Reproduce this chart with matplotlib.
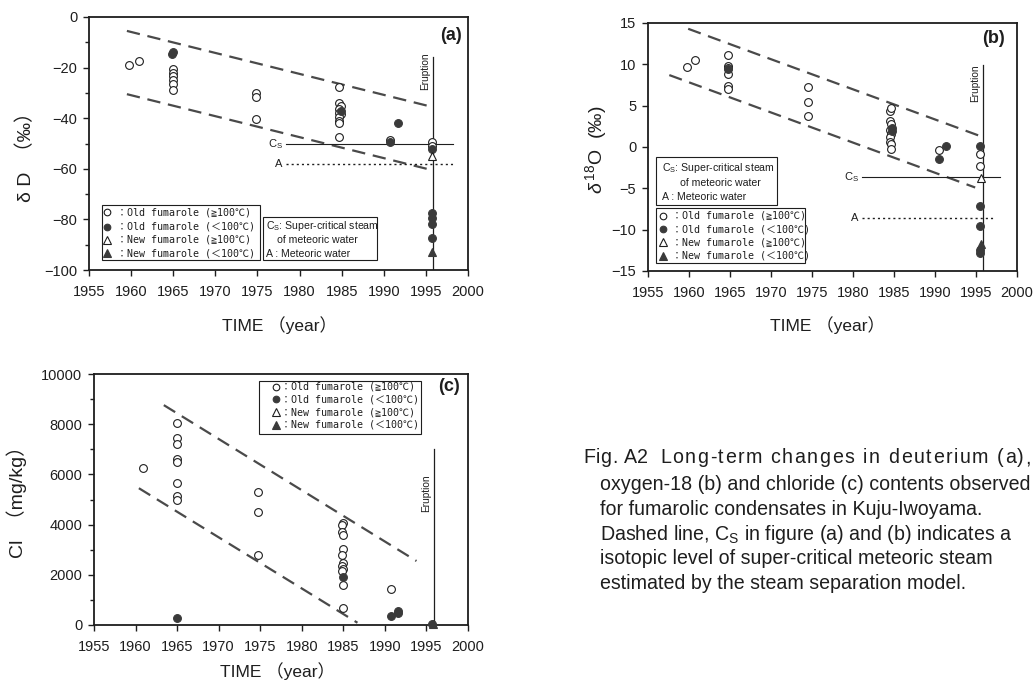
import matplotlib
matplotlib.use("Agg")
import matplotlib.pyplot as plt
from matplotlib.patches import Rectangle
from matplotlib.font_manager import FontProperties
import numpy as np

plt.rcParams["font.family"] = ["Liberation Sans", "Noto Sans CJK JP"]
plt.rcParams["mathtext.fontset"] = "custom"
plt.rcParams["mathtext.rm"] = "Liberation Sans"
plt.rcParams["mathtext.it"] = "Liberation Sans:italic"

INK = "#1e1e1e"
GREY = "#4a4a4a"
FILL = "#3a3a3a"

# ---------------- (a) deuterium ----------------
dD_old_hot_year = [1959.7, 1960.9, 1965.0, 1965.0, 1965.0, 1965.0, 1965.0, 1965.0,
                   1974.8, 1974.8, 1974.8,
                   1984.7, 1984.7, 1984.9, 1984.7, 1984.9, 1984.7, 1984.7, 1984.7, 1984.7, 1984.7,
                   1990.7, 1995.7, 1995.7]
dD_old_hot = [-19, -17.5, -20.5, -22, -23.5, -25, -26.5, -29,
              -30, -31.5, -40.5,
              -27.5, -34, -35, -36.5, -38.5, -38, -39.5, -41, -42, -47.5,
              -48.5, -49.5, -51]
dD_old_cool_year = [1965.0, 1964.9, 1984.9, 1990.7, 1991.7, 1995.7, 1995.7, 1995.7, 1995.7, 1995.7]
dD_old_cool = [-14, -14.5, -37, -49.5, -42, -52, -77.5, -79.5, -82, -87.5]
dD_new_hot_year = [1995.7]
dD_new_hot = [-55]
dD_new_cool_year = [1995.7]
dD_new_cool = [-93]
dD_upper_x = [1959.5, 1995.7]
dD_upper_y = [-5.5, -35.5]
dD_lower_x = [1959.5, 1995.7]
dD_lower_y = [-30.5, -60.5]
dD_cs = -50.3
dD_a = -58.3

# ---------------- (b) oxygen-18 ----------------
d18O_old_hot_year = [1959.7, 1960.7, 1964.7, 1964.7, 1964.7, 1964.7, 1964.7, 1964.7,
                     1974.5, 1974.5, 1974.5,
                     1984.5, 1984.6, 1984.5, 1984.6, 1984.5, 1984.6, 1984.5, 1984.5, 1984.6, 1984.6,
                     1990.5, 1995.5, 1995.5]
d18O_old_hot = [9.7, 10.5, 11.1, 9.8, 9.5, 8.8, 7.4, 7.0,
                7.3, 5.4, 3.7,
                4.4, 4.7, 3.2, 2.8, 2.0, 1.6, 1.2, 0.6, 0.4, -0.2,
                -0.4, -0.9, -2.3]
d18O_old_cool_year = [1964.7, 1984.7, 1984.7, 1990.5, 1991.4, 1995.5, 1995.5, 1995.5, 1995.5, 1995.5]
d18O_old_cool = [9.4, 2.3, 1.9, -1.5, 0.1, 0.1, -7.1, -9.6, -12.4, -12.8]
d18O_new_hot_year = [1995.6]
d18O_new_hot = [-3.7]
d18O_new_cool_year = [1995.6]
d18O_new_cool = [-11.7]
d18O_upper_x = [1959.9, 1995.3]
d18O_upper_y = [14.3, 1.4]
d18O_lower_x = [1957.6, 1994.9]
d18O_lower_y = [8.7, -4.9]
d18O_cs = -3.6
d18O_a = -8.6

# ---------------- (c) chloride ----------------
cl_old_hot_year = [1960.9, 1965.0, 1965.0, 1965.0, 1965.0, 1965.0, 1965.0, 1965.0, 1965.0,
                   1974.7, 1974.7, 1974.7,
                   1984.9, 1984.8, 1984.8, 1984.9, 1984.9, 1984.8, 1984.9, 1984.8, 1984.9, 1984.8,
                   1984.9, 1984.9, 1990.7]
cl_old_hot = [6250, 8030, 7470, 7200, 6600, 6500, 5650, 5150, 5000,
              5300, 4500, 2800,
              4080, 3980, 3720, 3600, 3020, 2780, 2480, 2350, 2250, 2150,
              1600, 660, 1420]
cl_old_cool_year = [1965.0, 1984.9, 1990.7, 1991.6, 1991.6, 1995.7]
cl_old_cool = [290, 1920, 360, 470, 560, 30]
cl_new_cool_year = [1995.8]
cl_new_cool = [20]
cl_upper_x = [1963.4, 1993.8]
cl_upper_y = [8760, 2550]
cl_lower_x = [1960.4, 1986.7]
cl_lower_y = [5450, 90]

eruption_year = 1995.9
years = np.arange(1955, 2001, 5)

legend_labels = ["：Old fumarole (≧100℃)", "：Old fumarole (＜100℃)",
                 "：New fumarole (≧100℃)", "：New fumarole (＜100℃)"]

caption_head = "Fig. A2"
caption_title = "Long-term changes in deuterium (a),"
caption_lines = [
    "oxygen-18 (b) and chloride (c) contents observed",
    "for fumarolic condensates in Kuju-Iwoyama.",
    r"Dashed line, C$_\mathrm{S}$ in figure (a) and (b) indicates a",
    "isotopic level of super-critical meteoric steam",
    "estimated by the steam separation model.",
]

STYLES = {
    "old_hot": dict(marker="o", mfc="white", mec=INK, ms=5.6, mew=0.8),
    "old_cool": dict(marker="o", mfc=FILL, mec=FILL, ms=5.6, mew=0.8),
    "new_hot": dict(marker="^", mfc="white", mec=INK, ms=6.0, mew=0.8),
    "new_cool": dict(marker="^", mfc=FILL, mec=FILL, ms=6.0, mew=0.8),
}
ORDER = ["old_hot", "old_cool", "new_hot", "new_cool"]

W, H = 1036, 684
fig = plt.figure(figsize=(W / 100, H / 100), dpi=100)


def style_axes(ax, xlim, ylim, yticks, yminor=None):
    ax.set_xlim(*xlim)
    ax.set_ylim(*ylim)
    ax.set_xticks(years)
    ax.set_yticks(yticks)
    if yminor is not None:
        ax.set_yticks(yminor, minor=True)
    ax.tick_params(axis="both", which="major", direction="out", length=4.5, width=1.0,
                   color=INK, labelcolor=INK, labelsize=10.5, pad=4)
    ax.tick_params(axis="y", which="minor", direction="out", length=3, width=1.0, color=INK)
    ax.tick_params(axis="x", pad=6)
    for s in ax.spines.values():
        s.set_color(INK)
        s.set_linewidth(1.3)


def pts(ax, x, y, key):
    ax.plot(x, y, linestyle="none", zorder=4, clip_on=False, **STYLES[key])


def dashed(ax, x, y):
    ax.plot(x, y, color=GREY, lw=1.6, linestyle=(0, (6, 3.5)), zorder=2)


def symbol_box(ax, x0, y0, x1, y1, rows_y, mx, tx, fs=7.2):
    ax.add_patch(Rectangle((x0, y0), x1 - x0, y1 - y0, transform=ax.transAxes,
                           facecolor="white", edgecolor=INK, lw=0.8, zorder=5, clip_on=False))
    for key, label, ry in zip(ORDER, legend_labels, rows_y):
        ax.plot([mx], [ry], transform=ax.transAxes, linestyle="none", zorder=6,
                clip_on=False, **{**STYLES[key], "ms": STYLES[key]["ms"] * 0.85})
        ax.text(tx, ry, label, transform=ax.transAxes, fontsize=fs, color=INK,
                va="center", ha="left", zorder=6,
                family=["DejaVu Sans Mono", "Noto Sans CJK JP"])


def cs_box(ax, x0, y0, x1, y1, rows_y, tx, tx2, fs=7.6):
    ax.add_patch(Rectangle((x0, y0), x1 - x0, y1 - y0, transform=ax.transAxes,
                           facecolor="white", edgecolor=INK, lw=0.8, zorder=5, clip_on=False))
    ax.text(tx, rows_y[0], r"C$_\mathrm{S}$: Super-critical steam", transform=ax.transAxes,
            fontsize=fs, color=INK, va="center", zorder=6)
    ax.text(tx2, rows_y[1], "of meteoric water", transform=ax.transAxes,
            fontsize=fs, color=INK, va="center", zorder=6)
    ax.text(tx, rows_y[2], "A : Meteoric water", transform=ax.transAxes,
            fontsize=fs, color=INK, va="center", zorder=6)


def eruption(ax, top, text_top):
    ax.plot([eruption_year, eruption_year], [ax.get_ylim()[0], top], color=INK, lw=0.9, zorder=3)
    ax.text(eruption_year - 0.35, text_top, "Eruption", rotation=90, fontsize=7.3,
            color=INK, ha="right", va="top", zorder=3)


def levels(ax, cs, a, x0, x1, xd1):
    ax.plot([x0, x1], [cs, cs], color=INK, lw=0.8, zorder=3)
    ax.plot([x0, xd1], [a, a], color=INK, lw=1.0, linestyle=(0, (1.5, 2.2)), zorder=3)
    ax.text(x0 - 0.4, cs, r"C$_\mathrm{S}$", fontsize=8, color=INK, ha="right", va="center")
    ax.text(x0 - 0.4, a, "A", fontsize=8, color=INK, ha="right", va="center")


def text_width(s, fs):
    renderer = fig.canvas.get_renderer()
    prop = FontProperties(family="Liberation Sans", size=fs)
    return renderer.get_text_width_height_descent(s, prop, ismath=False)[0]


def spaced_text(x_px, y_px, s, fs, track_px):
    """Write s one glyph at a time with extra tracking between the letters."""
    ref_w = text_width("x", fs)
    for i, ch in enumerate(s):
        if ch == " ":
            continue
        pre_w = text_width(s[:i] + "x", fs) - ref_w
        fig.text((x_px + pre_w + i * track_px) / W, 1 - y_px / H, ch, fontsize=fs,
                 color=INK, va="baseline", family="Liberation Sans")


# ----- panel (a)
axa = fig.add_axes([89 / W, 1 - 270 / H, 379 / W, 253 / H])
style_axes(axa, (1955, 2000), (-100, 0), np.arange(-100, 1, 20), np.arange(-90, 0, 20))
dashed(axa, dD_upper_x, dD_upper_y)
dashed(axa, dD_lower_x, dD_lower_y)
levels(axa, dD_cs, dD_a, 1978.4, 1998.2, 1998.2)
eruption(axa, -16, -14.0)
pts(axa, dD_old_hot_year, dD_old_hot, "old_hot")
pts(axa, dD_old_cool_year, dD_old_cool, "old_cool")
pts(axa, dD_new_hot_year, dD_new_hot, "new_hot")
pts(axa, dD_new_cool_year, dD_new_cool, "new_cool")
symbol_box(axa, 0.034, 0.040, 0.451, 0.257, [0.229, 0.170, 0.119, 0.067], 0.047, 0.074)
cs_box(axa, 0.459, 0.040, 0.760, 0.210, [0.174, 0.119, 0.063], 0.467, 0.495)
axa.text(0.984, 0.96, "(a)", transform=axa.transAxes, fontsize=13, fontweight="bold",
         color=INK, ha="right", va="top")
fig.text(26 / W, 1 - 152 / H, "δ D  （‰）", rotation=90, fontsize=14, color=INK,
         ha="center", va="center")
fig.text(279 / W, 1 - 325 / H, "TIME （year）", fontsize=12.5, color=INK,
         ha="center", va="center")

# ----- panel (b)
axb = fig.add_axes([648 / W, 1 - 271 / H, 369 / W, 248 / H])
style_axes(axb, (1955, 2000), (-15, 15), np.arange(-15, 16, 5))
dashed(axb, d18O_upper_x, d18O_upper_y)
dashed(axb, d18O_lower_x, d18O_lower_y)
levels(axb, d18O_cs, d18O_a, 1981.1, 1997.9, 1997.2)
eruption(axb, 9.9, 10.0)
pts(axb, d18O_old_hot_year, d18O_old_hot, "old_hot")
pts(axb, d18O_old_cool_year, d18O_old_cool, "old_cool")
pts(axb, d18O_new_hot_year, d18O_new_hot, "new_hot")
pts(axb, d18O_new_cool_year, d18O_new_cool, "new_cool")
cs_box(axb, 0.022, 0.266, 0.350, 0.460, [0.415, 0.355, 0.298], 0.037, 0.087)
symbol_box(axb, 0.022, 0.032, 0.425, 0.254, [0.222, 0.168, 0.116, 0.062], 0.041, 0.066)
axb.text(0.967, 0.972, "(b)", transform=axb.transAxes, fontsize=13, fontweight="bold",
         color=INK, ha="right", va="top")
fig.text(596 / W, 1 - 150 / H, r"$\delta\,^{18}$O  (‰)", rotation=90, fontsize=14,
         color=INK, ha="center", va="center")
fig.text(827 / W, 1 - 325 / H, "TIME （year）", fontsize=12.5, color=INK,
         ha="center", va="center")

# ----- panel (c)
axc = fig.add_axes([94 / W, 1 - 625 / H, 374 / W, 251 / H])
style_axes(axc, (1955, 2000), (0, 10000), np.arange(0, 10001, 2000),
           np.arange(1000, 10000, 2000))
dashed(axc, cl_upper_x, cl_upper_y)
dashed(axc, cl_lower_x, cl_lower_y)
eruption(axc, 7000, 6000)
pts(axc, cl_old_hot_year, cl_old_hot, "old_hot")
pts(axc, cl_old_cool_year, cl_old_cool, "old_cool")
pts(axc, cl_new_cool_year, cl_new_cool, "new_cool")
symbol_box(axc, 0.441, 0.761, 0.874, 0.972, [0.949, 0.899, 0.847, 0.797], 0.487, 0.500)
axc.text(0.979, 0.984, "(c)", transform=axc.transAxes, fontsize=13, fontweight="bold",
         color=INK, ha="right", va="top")
fig.text(17 / W, 1 - 497 / H, "Cl  （mg/kg）", rotation=90, fontsize=14, color=INK,
         ha="center", va="center")
fig.text(277 / W, 1 - 671 / H, "TIME （year）", fontsize=12.5, color=INK,
         ha="center", va="center")

# ----- caption, fitted to the space right of panel (c)
cap_fs = 14.1
spaced_text(583, 463, caption_head, cap_fs, 0.6)
title_x0, title_x1 = 660, 1031
title_track = (title_x1 - title_x0 - text_width(caption_title, cap_fs)) / (len(caption_title) - 1)
spaced_text(title_x0, 463, caption_title, cap_fs, title_track)
for i, line in enumerate(caption_lines):
    fig.text(600 / W, 1 - (490 + 24.8 * i) / H, line, fontsize=cap_fs, color=INK,
             va="baseline")

fig.savefig("out.png", dpi=100)
